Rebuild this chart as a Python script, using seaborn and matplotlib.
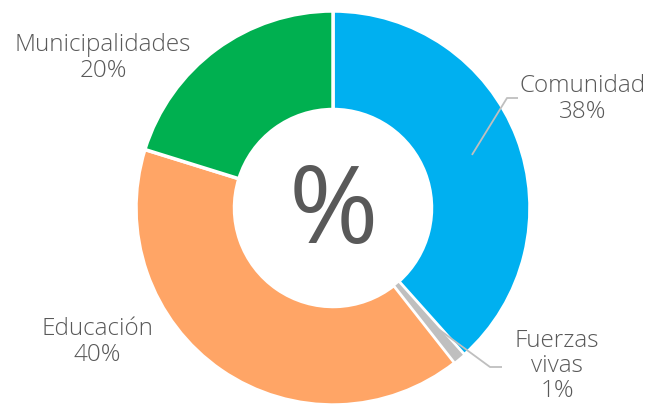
import numpy as np
import matplotlib
matplotlib.use("Agg")
import matplotlib.pyplot as plt
import seaborn as sns

# Distribution of participants by sector
categories = ["Comunidad", "Fuerzas\nvivas", "Educación", "Municipalidades"]
values = [38, 1, 40, 20]
colors = ["#00B0F0", "#BFBFBF", "#FFA566", "#00B050"]

sns.set_theme(style="white")
plt.rcParams["font.family"] = ["Open Sans", "DejaVu Sans"]

W, H, DPI = 660, 405, 100
fig = plt.figure(figsize=(W / DPI, H / DPI), dpi=DPI)
ax = fig.add_axes([0, 0, 1, 1])

# pixel geometry of the ring
cx, cy, R = 333, 208, 197

wedges, _ = ax.pie(
    values,
    colors=colors,
    startangle=90,
    counterclock=False,
    wedgeprops=dict(width=0.5, edgecolor="white", linewidth=2.5),
)
# keep the thin slice readable: lighter border, drawn above its neighbours
wedges[1].set_linewidth(1.5)
wedges[1].set_zorder(wedges[1].get_zorder() + 1)

ax.set_xlim(-cx / R, (W - cx) / R)
ax.set_ylim(-(H - cy) / R, cy / R)
ax.set_aspect("auto")
ax.axis("off")

text_color = "#595959"
line_color = "#BFBFBF"

# centre symbol
ax.text(0, -0.035, "%", ha="center", va="center", fontsize=78,
        color=text_color, fontweight="normal")


def mid_point(w, r=0.755):
    ang = np.deg2rad((w.theta1 + w.theta2) / 2)
    return r * np.cos(ang), r * np.sin(ang)


def px(x, y):
    return (x - cx) / R, (cy - y) / R


# label anchors: centre x, first-line y and line step, in pixels
label_pos = {
    0: (583, 86, 26),
    1: (557, 341, 25),
    2: (97, 329, 26),
    3: (103, 45, 26),
}
for i, (lx, ly, step) in label_pos.items():
    lines = categories[i].split("\n") + [f"{values[i]}%"]
    for k, s in enumerate(lines):
        x, y = px(lx, ly + k * step)
        ax.text(x, y, s, ha="center", va="center", fontsize=17.5,
                color=text_color, fontweight="light")

# leader lines for the two right-hand slices
for i, elbow, end in [(0, (507, 98), (518, 98)), (1, (490, 367), (502, 367))]:
    sx, sy = mid_point(wedges[i])
    ex, ey = px(*elbow)
    tx, ty = px(*end)
    ax.plot([sx, ex, tx], [sy, ey, ty], color=line_color, lw=1.3,
            solid_capstyle="butt", zorder=5)

fig.savefig("out.png", dpi=DPI)
